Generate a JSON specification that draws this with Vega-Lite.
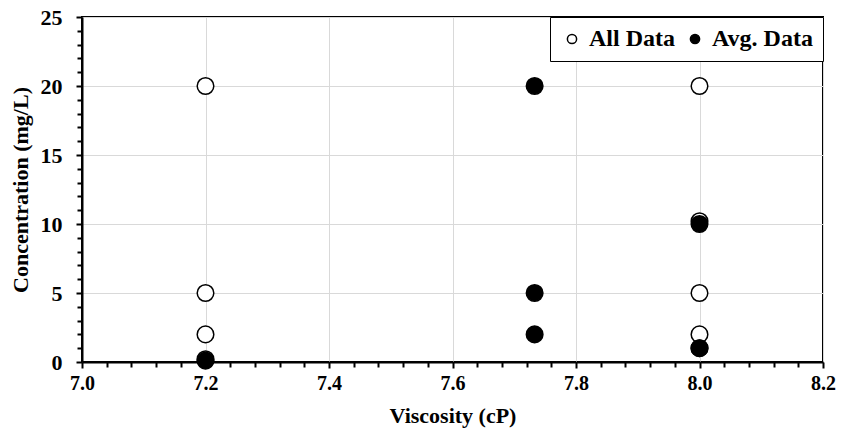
{
  "$schema": "https://vega.github.io/schema/vega-lite/v6.json",
  "width": 741,
  "height": 345,
  "autosize": {"type": "none"},
  "padding": {"left": 82, "top": 17, "right": 22, "bottom": 74},
  "background": "white",
  "config": {
    "view": {"stroke": "black", "strokeWidth": 2},
    "font": "Liberation Serif"
  },
  "data": {
    "values": [
      {"viscosity": 7.2, "concentration": 20, "series": "All Data"},
      {"viscosity": 7.2, "concentration": 5, "series": "All Data"},
      {"viscosity": 7.2, "concentration": 2, "series": "All Data"},
      {"viscosity": 7.2, "concentration": 0.2, "series": "All Data"},
      {"viscosity": 8.0, "concentration": 20, "series": "All Data"},
      {"viscosity": 8.0, "concentration": 10.2, "series": "All Data"},
      {"viscosity": 8.0, "concentration": 5, "series": "All Data"},
      {"viscosity": 8.0, "concentration": 2, "series": "All Data"},
      {"viscosity": 8.0, "concentration": 1, "series": "All Data"},
      {"viscosity": 7.2, "concentration": 0.1, "series": "Avg. Data"},
      {"viscosity": 7.733, "concentration": 20, "series": "Avg. Data"},
      {"viscosity": 7.733, "concentration": 5, "series": "Avg. Data"},
      {"viscosity": 7.733, "concentration": 2, "series": "Avg. Data"},
      {"viscosity": 8.0, "concentration": 10, "series": "Avg. Data"},
      {"viscosity": 8.0, "concentration": 1, "series": "Avg. Data"}
    ]
  },
  "mark": {"type": "point", "filled": true, "size": 275, "stroke": "black", "strokeWidth": 1.5, "opacity": 1},
  "encoding": {
    "x": {
      "field": "viscosity", "type": "quantitative",
      "scale": {"domain": [7.0, 8.2], "nice": false, "zero": false},
      "axis": {
        "title": "Viscosity (cP)", "orient": "bottom",
        "values": [7.0, 7.04, 7.08, 7.12, 7.16, 7.2, 7.24, 7.28, 7.32, 7.36, 7.4, 7.44, 7.48, 7.52, 7.56, 7.6, 7.64, 7.68, 7.72, 7.76, 7.8, 7.84, 7.88, 7.92, 7.96, 8.0, 8.04, 8.08, 8.12, 8.16, 8.2],
        "labelExpr": "abs(round(datum.value*5) - datum.value*5) < 0.001 ? format(datum.value, '.1f') : ''",
        "grid": true, "gridColor": "#d9d9d9", "gridWidth": 1,
        "gridOpacity": {"condition": {"test": "abs(round(datum.value*5) - datum.value*5) < 0.001", "value": 1}, "value": 0},
        "domainColor": "black", "domainWidth": 2,
        "ticks": true, "tickColor": "black", "tickWidth": 2,
        "tickSize": {"condition": {"test": "abs(round(datum.value*5) - datum.value*5) < 0.001", "value": 6}, "value": 5},
        "labelFont": "Liberation Serif", "labelFontSize": 20, "labelFontWeight": "bold", "labelColor": "black",
        "labelPadding": 5, "labelFlush": false, "labelOverlap": false,
        "titleFont": "Liberation Serif", "titleFontSize": 22, "titleFontWeight": "bold", "titleColor": "black",
        "titlePadding": 12
      }
    },
    "y": {
      "field": "concentration", "type": "quantitative",
      "scale": {"domain": [0, 25], "nice": false},
      "axis": {
        "title": "Concentration (mg/L)", "orient": "left",
        "values": [0, 1, 2, 3, 4, 5, 6, 7, 8, 9, 10, 11, 12, 13, 14, 15, 16, 17, 18, 19, 20, 21, 22, 23, 24, 25],
        "labelExpr": "datum.value % 5 === 0 ? datum.label : ''",
        "grid": true, "gridColor": "#d9d9d9", "gridWidth": 1,
        "gridOpacity": {"condition": {"test": "datum.value % 5 === 0", "value": 1}, "value": 0},
        "domainColor": "black", "domainWidth": 2,
        "ticks": true, "tickColor": "black", "tickWidth": 2,
        "tickSize": {"condition": {"test": "datum.value % 5 === 0", "value": 6}, "value": 5},
        "labelFont": "Liberation Serif", "labelFontSize": 22, "labelFontWeight": "bold", "labelColor": "black",
        "labelPadding": 14, "labelFlush": false, "labelOverlap": false,
        "titleFont": "Liberation Serif", "titleFontSize": 22, "titleFontWeight": "bold", "titleColor": "black",
        "titlePadding": 8
      }
    },
    "fill": {
      "field": "series", "type": "nominal",
      "scale": {"domain": ["All Data", "Avg. Data"], "range": ["white", "black"]},
      "legend": {
        "title": null, "orient": "top-right", "direction": "horizontal",
        "offset": 0, "padding": 10,
        "strokeColor": "black", "fillColor": "white",
        "symbolType": "circle", "symbolSize": 85, "symbolStrokeColor": "black", "symbolStrokeWidth": 1.5,
        "labelFont": "Liberation Serif", "labelFontSize": 24, "labelFontWeight": "bold", "labelColor": "black",
        "labelOffset": 5, "columnPadding": 8,
        "encode": {"legend": {"update": {"strokeWidth": {"value": 2.5}}}}
      }
    }
  }
}
